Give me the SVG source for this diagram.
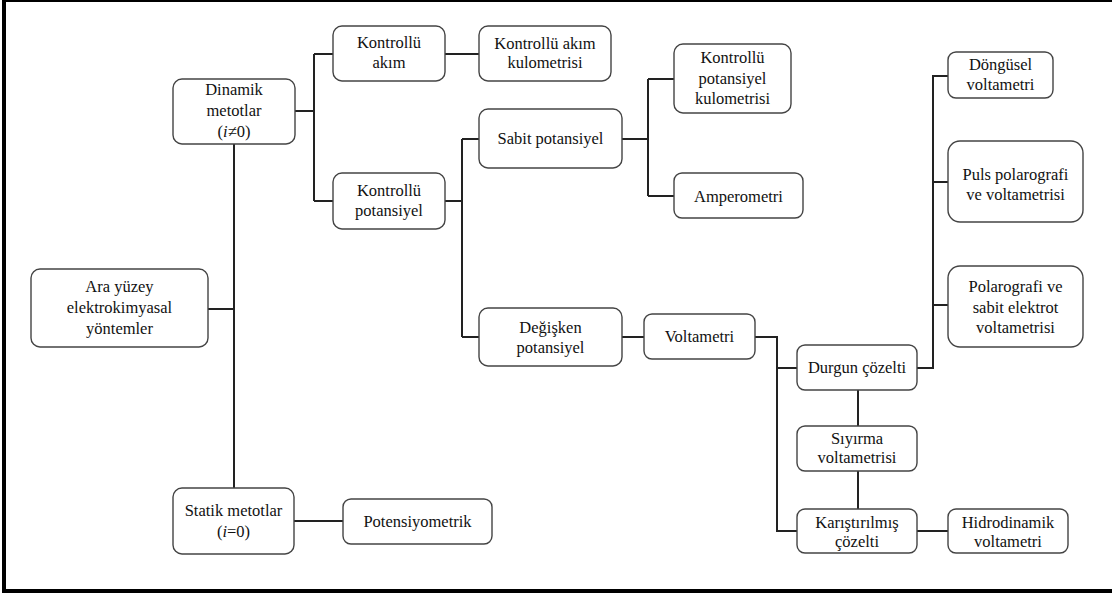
<svg xmlns="http://www.w3.org/2000/svg" width="1112" height="594" viewBox="0 0 1112 594">
<style>
.n rect{fill:#fff;stroke:#444;stroke-width:1.4}
text{font-family:"Times New Roman","Liberation Serif",Tinos,"Noto Serif","DejaVu Serif",serif;font-size:16.5px;fill:#111;text-anchor:middle}
#connectors path{fill:none;stroke:#222;stroke-width:2}
</style>
<rect x="4" y="0" width="1112" height="591" fill="#fff" stroke="#000" stroke-width="4"/>
<g id="connectors">
<path d="M295,111 H314 M314,54 V201 M314,54 H333 M314,201 H333"/>
<path d="M445,54 H479"/>
<path d="M234,144 V488 M208,309 H234"/>
<path d="M294,521 H343"/>
<path d="M445,201 H462 M462,139 V337 M462,139 H479 M462,337 H479"/>
<path d="M622,139 H648 M648,79 V196 M648,79 H674 M648,196 H674"/>
<path d="M622,337 H644"/>
<path d="M755,337 H777 V531 H797 M777,368 H797"/>
<path d="M917,368 H933 V76 H948 M933,182 H948 M933,305 H948"/>
<path d="M858,390 V426 M858,471 V509"/>
<path d="M917,531 H948"/>
</g>
<g id="ara" class="n"><rect x="31" y="269" width="177" height="78" rx="9"/><text x="119.5" y="292">Ara yüzey</text><text x="119.5" y="313">elektrokimyasal</text><text x="119.5" y="334">yöntemler</text></g>
<g id="dinamik" class="n"><rect x="173" y="79" width="122" height="65" rx="9"/><text x="234" y="95">Dinamik</text><text x="234" y="116">metotlar</text><text x="234" y="137">(<tspan font-style="italic">i</tspan>≠0)</text></g>
<g id="statik" class="n"><rect x="173" y="488" width="121" height="66" rx="9"/><text x="233.5" y="516">Statik metotlar</text><text x="233.5" y="537">(<tspan font-style="italic">i</tspan>=0)</text></g>
<g id="potensiyometrik" class="n"><rect x="343" y="499" width="149" height="45" rx="8"/><text x="417.5" y="527">Potensiyometrik</text></g>
<g id="kakim" class="n"><rect x="333" y="26" width="112" height="55" rx="9"/><text x="389" y="48">Kontrollü</text><text x="389" y="68">akım</text></g>
<g id="kpot" class="n"><rect x="333" y="173" width="112" height="56" rx="9"/><text x="389" y="196">Kontrollü</text><text x="389" y="216">potansiyel</text></g>
<g id="kakimkulo" class="n"><rect x="479" y="26" width="132" height="55" rx="9"/><text x="545" y="49">Kontrollü akım</text><text x="545" y="68">kulometrisi</text></g>
<g id="sabit" class="n"><rect x="479" y="109" width="143" height="59" rx="9"/><text x="550.5" y="144">Sabit potansiyel</text></g>
<g id="degisken" class="n"><rect x="479" y="308" width="143" height="58" rx="9"/><text x="550.5" y="333">Değişken</text><text x="550.5" y="353">potansiyel</text></g>
<g id="kpotkulo" class="n"><rect x="674" y="44" width="117" height="69" rx="9"/><text x="732.5" y="63">Kontrollü</text><text x="732.5" y="84">potansiyel</text><text x="732.5" y="104">kulometrisi</text></g>
<g id="amperometri" class="n"><rect x="674" y="173" width="129" height="45" rx="8"/><text x="738.5" y="202">Amperometri</text></g>
<g id="voltametri" class="n"><rect x="644" y="314" width="111" height="45" rx="8"/><text x="699.5" y="342">Voltametri</text></g>
<g id="durgun" class="n"><rect x="797" y="345" width="120" height="45" rx="8"/><text x="857" y="373">Durgun çözelti</text></g>
<g id="siyirma" class="n"><rect x="797" y="426" width="120" height="45" rx="8"/><text x="857" y="444">Sıyırma</text><text x="857" y="463">voltametrisi</text></g>
<g id="karistirilmis" class="n"><rect x="797" y="509" width="120" height="44" rx="8"/><text x="857" y="528">Karıştırılmış</text><text x="857" y="547">çözelti</text></g>
<g id="hidrodinamik" class="n"><rect x="948" y="509" width="120" height="44" rx="8"/><text x="1008" y="528">Hidrodinamik</text><text x="1008" y="547">voltametri</text></g>
<g id="dongusel" class="n"><rect x="948" y="52" width="105" height="46" rx="8"/><text x="1000.5" y="70">Döngüsel</text><text x="1000.5" y="90">voltametri</text></g>
<g id="puls" class="n"><rect x="948" y="141" width="135" height="81" rx="12"/><text x="1015.5" y="180">Puls polarografi</text><text x="1015.5" y="200">ve voltametrisi</text></g>
<g id="polarografi" class="n"><rect x="948" y="266" width="135" height="81" rx="12"/><text x="1015.5" y="292">Polarografi ve</text><text x="1015.5" y="313">sabit elektrot</text><text x="1015.5" y="333">voltametrisi</text></g>
</svg>
